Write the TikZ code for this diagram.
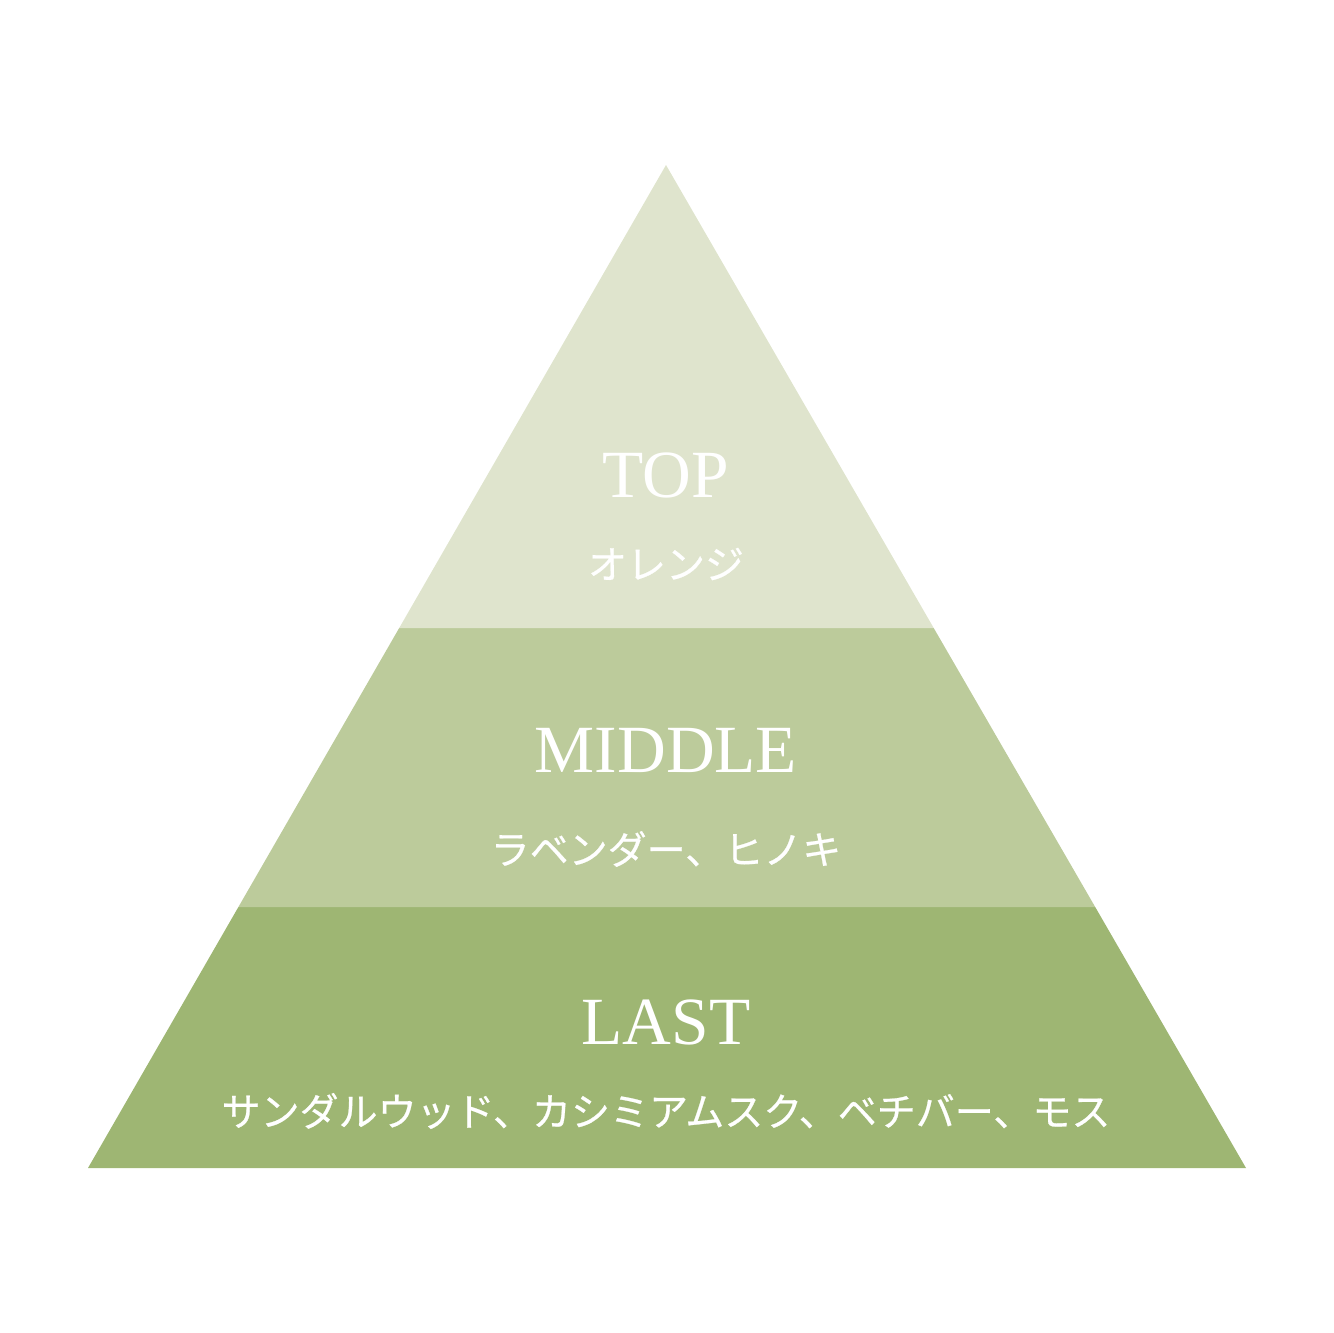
\documentclass[tikz,border=0pt]{standalone}
\usepackage{fontspec}
\setmainfont{Liberation Serif}
\newfontfamily\jpfont[FakeBold=0.6]{Noto Sans CJK JP}
\definecolor{topgreen}{HTML}{DFE4CD}
\definecolor{midgreen}{HTML}{BCCB9B}
\definecolor{lastgreen}{HTML}{9EB673}
\begin{document}
\begin{tikzpicture}[x=1pt,y=-1pt,
    title/.style={text=white,inner sep=0pt,font=\fontsize{67.5}{67.5}\selectfont},
    notes/.style={text=white,inner sep=0pt,font=\jpfont\fontsize{39}{39}\selectfont}]
  \useasboundingbox (0,0) rectangle (1333,1333);
  % pyramid bands
  \fill[lastgreen] (238.4,907) -- (1095.2,907) -- (1246,1168) -- (88,1168) -- cycle;
  \fill[midgreen] (399.2,628) -- (933.7,628) -- (1095.2,907) -- (238.4,907) -- cycle;
  \fill[topgreen] (666,165) -- (933.7,628) -- (399.2,628) -- cycle;
  % labels
  \node (top) [title] at (666,475) {TOP};
  \node (topnotes) [notes] at (666,564) {オレンジ};
  \node (middle) [title] at (666,750) {MIDDLE};
  \node (middlenotes) [notes] at (666,849) {ラベンダー、ヒノキ};
  \node (last) [title] at (666,1022) {LAST};
  \node (lastnotes) [notes] at (666,1111) {サンダルウッド、カシミアムスク、ベチバー、モス};
\end{tikzpicture}
\end{document}
